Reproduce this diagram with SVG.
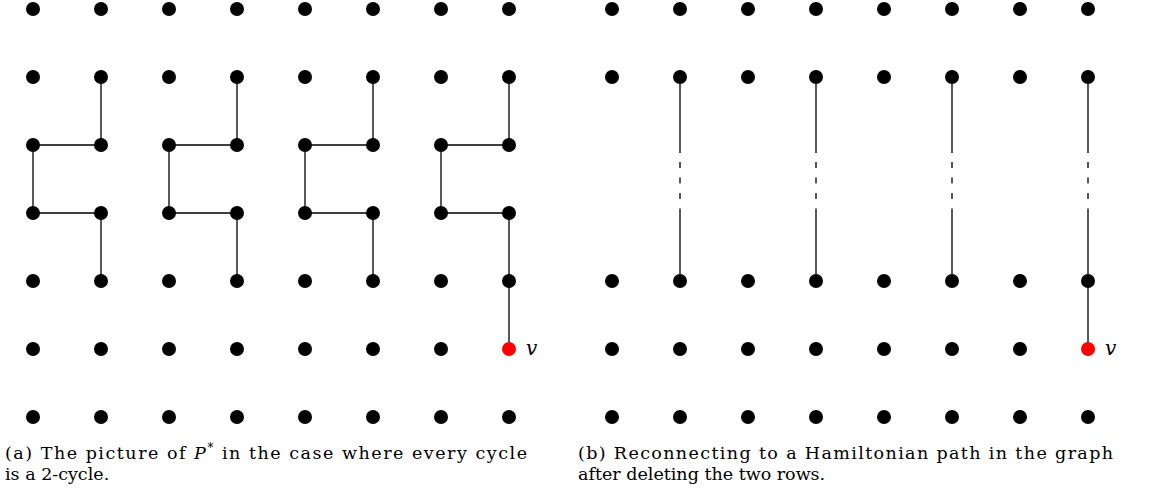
<svg xmlns="http://www.w3.org/2000/svg" width="1153" height="498" viewBox="0 0 1153 498">
<style>
.e{stroke:#000;stroke-width:1.3;fill:none}
.d{stroke:#000;stroke-width:1.3;fill:none;stroke-dasharray:6 9.5}
.n{fill:#000}
.r{fill:#ff0000}
.cap{font-family:"DejaVu Serif","Liberation Serif",serif;font-size:17.5px;fill:#000}
.lab{font-family:"DejaVu Serif","Liberation Serif",serif;font-size:20px;font-style:italic;fill:#000}
</style>
<rect width="1153" height="498" fill="#fff"/>
<g id="connectors">
<path class="e" d="M101 77V145H33V213H101V281M237 77V145H169V213H237V281M373 77V145H305V213H373V281M509 77V145H441V213H509V349"/>
<path class="e" d="M680 77V153M680 209V281M816 77V153M816 209V281M952 77V153M952 209V281M1088 77V153M1088 209V349"/>
<path class="d" d="M680 162V209M816 162V209M952 162V209M1088 162V209"/>
</g>
<g id="nodes-a">
<g id="a-r0"><circle class="n" cx="33" cy="9" r="7"/><circle class="n" cx="101" cy="9" r="7"/><circle class="n" cx="169" cy="9" r="7"/><circle class="n" cx="237" cy="9" r="7"/><circle class="n" cx="305" cy="9" r="7"/><circle class="n" cx="373" cy="9" r="7"/><circle class="n" cx="441" cy="9" r="7"/><circle class="n" cx="509" cy="9" r="7"/></g>
<g id="a-r1"><circle class="n" cx="33" cy="77" r="7"/><circle class="n" cx="101" cy="77" r="7"/><circle class="n" cx="169" cy="77" r="7"/><circle class="n" cx="237" cy="77" r="7"/><circle class="n" cx="305" cy="77" r="7"/><circle class="n" cx="373" cy="77" r="7"/><circle class="n" cx="441" cy="77" r="7"/><circle class="n" cx="509" cy="77" r="7"/></g>
<g id="a-r2"><circle class="n" cx="33" cy="145" r="7"/><circle class="n" cx="101" cy="145" r="7"/><circle class="n" cx="169" cy="145" r="7"/><circle class="n" cx="237" cy="145" r="7"/><circle class="n" cx="305" cy="145" r="7"/><circle class="n" cx="373" cy="145" r="7"/><circle class="n" cx="441" cy="145" r="7"/><circle class="n" cx="509" cy="145" r="7"/></g>
<g id="a-r3"><circle class="n" cx="33" cy="213" r="7"/><circle class="n" cx="101" cy="213" r="7"/><circle class="n" cx="169" cy="213" r="7"/><circle class="n" cx="237" cy="213" r="7"/><circle class="n" cx="305" cy="213" r="7"/><circle class="n" cx="373" cy="213" r="7"/><circle class="n" cx="441" cy="213" r="7"/><circle class="n" cx="509" cy="213" r="7"/></g>
<g id="a-r4"><circle class="n" cx="33" cy="281" r="7"/><circle class="n" cx="101" cy="281" r="7"/><circle class="n" cx="169" cy="281" r="7"/><circle class="n" cx="237" cy="281" r="7"/><circle class="n" cx="305" cy="281" r="7"/><circle class="n" cx="373" cy="281" r="7"/><circle class="n" cx="441" cy="281" r="7"/><circle class="n" cx="509" cy="281" r="7"/></g>
<g id="a-r5"><circle class="n" cx="33" cy="349" r="7"/><circle class="n" cx="101" cy="349" r="7"/><circle class="n" cx="169" cy="349" r="7"/><circle class="n" cx="237" cy="349" r="7"/><circle class="n" cx="305" cy="349" r="7"/><circle class="n" cx="373" cy="349" r="7"/><circle class="n" cx="441" cy="349" r="7"/></g>
<g id="a-v"><circle class="r" cx="509" cy="349" r="7"/><text class="lab" x="526" y="355">v</text></g>
<g id="a-r6"><circle class="n" cx="33" cy="417" r="7"/><circle class="n" cx="101" cy="417" r="7"/><circle class="n" cx="169" cy="417" r="7"/><circle class="n" cx="237" cy="417" r="7"/><circle class="n" cx="305" cy="417" r="7"/><circle class="n" cx="373" cy="417" r="7"/><circle class="n" cx="441" cy="417" r="7"/><circle class="n" cx="509" cy="417" r="7"/></g>
</g>
<g id="nodes-b">
<g id="b-r0"><circle class="n" cx="612" cy="9" r="7"/><circle class="n" cx="680" cy="9" r="7"/><circle class="n" cx="748" cy="9" r="7"/><circle class="n" cx="816" cy="9" r="7"/><circle class="n" cx="884" cy="9" r="7"/><circle class="n" cx="952" cy="9" r="7"/><circle class="n" cx="1020" cy="9" r="7"/><circle class="n" cx="1088" cy="9" r="7"/></g>
<g id="b-r1"><circle class="n" cx="612" cy="77" r="7"/><circle class="n" cx="680" cy="77" r="7"/><circle class="n" cx="748" cy="77" r="7"/><circle class="n" cx="816" cy="77" r="7"/><circle class="n" cx="884" cy="77" r="7"/><circle class="n" cx="952" cy="77" r="7"/><circle class="n" cx="1020" cy="77" r="7"/><circle class="n" cx="1088" cy="77" r="7"/></g>
<g id="b-r4"><circle class="n" cx="612" cy="281" r="7"/><circle class="n" cx="680" cy="281" r="7"/><circle class="n" cx="748" cy="281" r="7"/><circle class="n" cx="816" cy="281" r="7"/><circle class="n" cx="884" cy="281" r="7"/><circle class="n" cx="952" cy="281" r="7"/><circle class="n" cx="1020" cy="281" r="7"/><circle class="n" cx="1088" cy="281" r="7"/></g>
<g id="b-r5"><circle class="n" cx="612" cy="349" r="7"/><circle class="n" cx="680" cy="349" r="7"/><circle class="n" cx="748" cy="349" r="7"/><circle class="n" cx="816" cy="349" r="7"/><circle class="n" cx="884" cy="349" r="7"/><circle class="n" cx="952" cy="349" r="7"/><circle class="n" cx="1020" cy="349" r="7"/></g>
<g id="b-v"><circle class="r" cx="1088" cy="349" r="7"/><text class="lab" x="1105" y="355">v</text></g>
<g id="b-r6"><circle class="n" cx="612" cy="417" r="7"/><circle class="n" cx="680" cy="417" r="7"/><circle class="n" cx="748" cy="417" r="7"/><circle class="n" cx="816" cy="417" r="7"/><circle class="n" cx="884" cy="417" r="7"/><circle class="n" cx="952" cy="417" r="7"/><circle class="n" cx="1020" cy="417" r="7"/><circle class="n" cx="1088" cy="417" r="7"/></g>
</g>
<g id="caption-a" class="cap">
<text x="5" y="459" textLength="522" lengthAdjust="spacing">(a) The picture of <tspan font-style="italic">P</tspan><tspan dy="-7" font-size="12">*</tspan><tspan dy="7"> in the case where every cycle</tspan></text>
<text x="5" y="480">is a 2-cycle.</text>
</g>
<g id="caption-b" class="cap">
<text x="578" y="459" textLength="535" lengthAdjust="spacing">(b) Reconnecting to a Hamiltonian path in the graph</text>
<text x="578" y="480">after deleting the two rows.</text>
</g>
</svg>
